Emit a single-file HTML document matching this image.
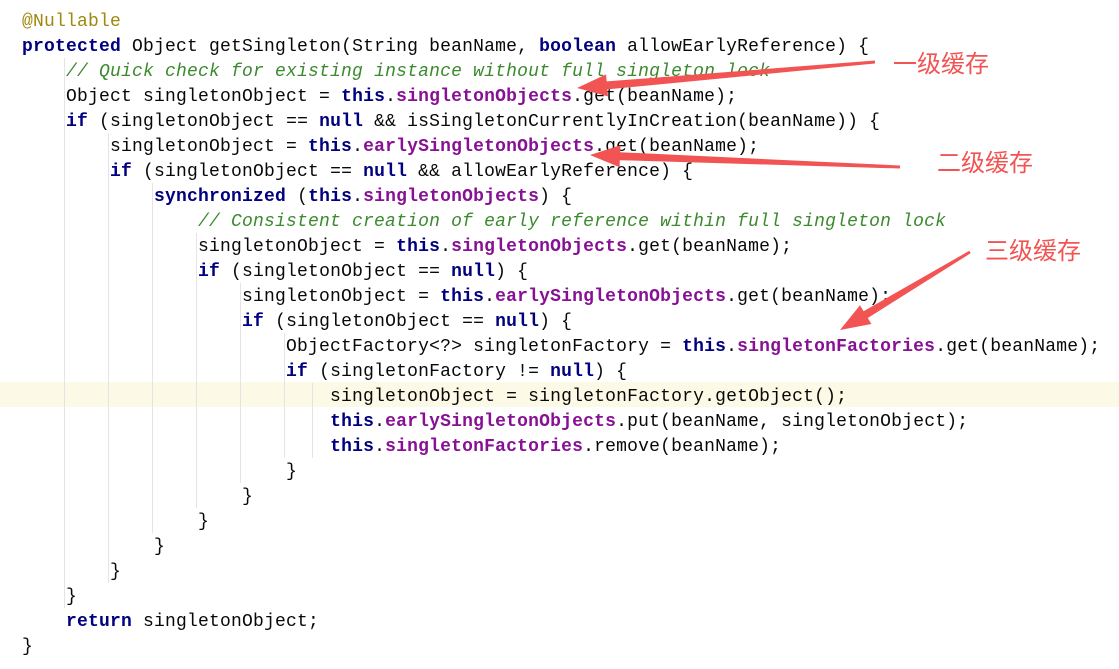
<!DOCTYPE html>
<html><head><meta charset="utf-8"><style>
html,body{margin:0;padding:0;background:#fff;width:1119px;height:669px;overflow:hidden;position:relative}
pre{position:absolute;left:22px;top:10px;margin:0;font-family:"Liberation Mono",monospace;font-size:18px;line-height:25px;color:#080808;letter-spacing:0.2px;z-index:2}
.k{color:#000080;font-weight:bold}
.f{color:#871094;font-weight:bold}
.c{color:#3b8a2e;font-style:italic}
.a{color:#9e880d}
.hl{position:absolute;left:0;top:382px;width:1119px;height:25px;background:#fcf9e6;z-index:0}
.g{position:absolute;width:1px;background:#e4e4e4;z-index:1}
svg{position:absolute;left:0;top:0;z-index:3}
.lab{position:absolute;font-family:"Liberation Sans","Noto Sans CJK SC",sans-serif;font-size:24px;color:#f25454;z-index:4}
</style></head><body>
<div class="hl"></div>
<div class="g" style="left:64px;top:58px;height:550px"></div>
<div class="g" style="left:108px;top:133px;height:450px"></div>
<div class="g" style="left:152px;top:183px;height:350px"></div>
<div class="g" style="left:196px;top:233px;height:275px"></div>
<div class="g" style="left:240px;top:283px;height:200px"></div>
<div class="g" style="left:284px;top:333px;height:125px"></div>
<div class="g" style="left:312px;top:383px;height:75px"></div>
<pre><span class="a">@Nullable</span>
<span class="k">protected</span> Object getSingleton(String beanName, <span class="k">boolean</span> allowEarlyReference) {
    <span class="c">// Quick check for existing instance without full singleton lock</span>
    Object singletonObject = <span class="k">this</span>.<span class="f">singletonObjects</span>.get(beanName);
    <span class="k">if</span> (singletonObject == <span class="k">null</span> &amp;&amp; isSingletonCurrentlyInCreation(beanName)) {
        singletonObject = <span class="k">this</span>.<span class="f">earlySingletonObjects</span>.get(beanName);
        <span class="k">if</span> (singletonObject == <span class="k">null</span> &amp;&amp; allowEarlyReference) {
            <span class="k">synchronized</span> (<span class="k">this</span>.<span class="f">singletonObjects</span>) {
                <span class="c">// Consistent creation of early reference within full singleton lock</span>
                singletonObject = <span class="k">this</span>.<span class="f">singletonObjects</span>.get(beanName);
                <span class="k">if</span> (singletonObject == <span class="k">null</span>) {
                    singletonObject = <span class="k">this</span>.<span class="f">earlySingletonObjects</span>.get(beanName);
                    <span class="k">if</span> (singletonObject == <span class="k">null</span>) {
                        ObjectFactory&lt;?&gt; singletonFactory = <span class="k">this</span>.<span class="f">singletonFactories</span>.get(beanName);
                        <span class="k">if</span> (singletonFactory != <span class="k">null</span>) {
                            singletonObject = singletonFactory.getObject();
                            <span class="k">this</span>.<span class="f">earlySingletonObjects</span>.put(beanName, singletonObject);
                            <span class="k">this</span>.<span class="f">singletonFactories</span>.remove(beanName);
                        }
                    }
                }
            }
        }
    }
    <span class="k">return</span> singletonObject;
}</pre>
<svg width="1119" height="669">
<g fill="#f25454">
<polygon points="875,60.5 606.7,81.4 606,74.4 577,88 608,96.4 607.3,89.4 875,63.5"/>
<polygon points="900,165.5 620.2,152.2 620.4,145.2 590,155 619.6,167.2 619.8,160.2 900,168.5"/>
<polygon points="969.3,250.8 863.6,311.2 860,305.2 840,330 871.4,324 867.8,318 970.7,253.2"/>
</g>
</svg>
<div class="lab" style="left:893px;top:44px">一级缓存</div>
<div class="lab" style="left:937px;top:143px">二级缓存</div>
<div class="lab" style="left:985px;top:231px">三级缓存</div>
</body></html>
